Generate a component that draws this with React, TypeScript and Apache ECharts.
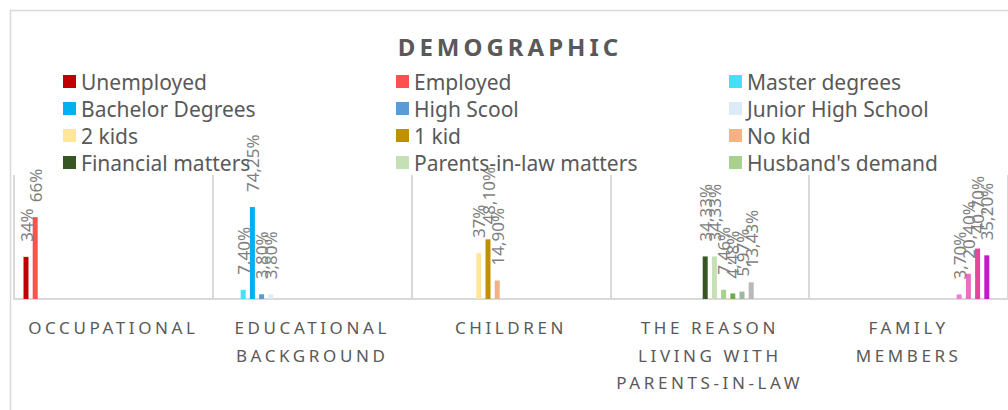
import React, { useEffect, useRef } from "react";
import * as echarts from "echarts";

const TITLE = "DEMOGRAPHIC";
const CATEGORIES = [
  "OCCUPATIONAL",
  "EDUCATIONAL\nBACKGROUND",
  "CHILDREN",
  "THE REASON\nLIVING WITH\nPARENTS-IN-LAW",
  "FAMILY\nMEMBERS",
];
const SERIES_NAMES = [
  "Unemployed",
  "Employed",
  "Master degrees",
  "Bachelor Degrees",
  "High Scool",
  "Junior High School",
  "2 kids",
  "1 kid",
  "No kid",
  "Financial matters",
  "Parents-in-law matters",
  "Husband's demand",
  "Reason 4",
  "Reason 5",
  "Reason 6",
  "Family 1",
  "Family 2",
  "Family 3",
  "Family 4",
  "Blank",
];
const SERIES_CATEGORY = [0, 0, 1, 1, 1, 1, 2, 2, 2, 3, 3, 3, 3, 3, 3, 4, 4, 4, 4, -1];
const SERIES_VALUES = [
  34, 66, 7.4, 74.25, 3.8, 3.8, 37, 48.1, 14.9, 34.33, 34.33, 7.46, 4.48, 5.97, 13.43, 3.7, 20.4,
  40.7, 35.2, null,
];
const LABEL_DECIMALS = [0, 0, 2, 2, 2, 2, 0, 2, 2, 2, 2, 2, 2, 2, 2, 2, 2, 2, 2, 2];
const SERIES_COLORS = [
  "#C00000",
  "#FF5050",
  "#47DFF7",
  "#00B0F0",
  "#5B9BD5",
  "#DDEBF7",
  "#FFE699",
  "#BF9000",
  "#F4B183",
  "#375623",
  "#C5E0B4",
  "#A9D18E",
  "#70AD47",
  "#9CB99C",
  "#B8B8B8",
  "#F07ED6",
  "#EE6CC2",
  "#E8459A",
  "#C21BC9",
  "#999999",
];
const LEGEND_COLUMNS = [
  ["Unemployed", "Bachelor Degrees", "2 kids", "Financial matters"],
  ["Employed", "High Scool", "1 kid", "Parents-in-law matters"],
  ["Master degrees", "Junior High School", "No kid", "Husband's demand"],
];
const LEGEND_X = [63, 396, 729];

const FONT = "Noto Sans";

export default function App() {
  const ref = useRef<HTMLDivElement>(null);

  useEffect(() => {
    document.body.style.margin = "0";
    if (!ref.current) return;
    const chart = echarts.init(ref.current, null, { renderer: "svg" });

    const axisLines: string[] = [];
    CATEGORIES.forEach((c) => c.split("\n").forEach((l) => axisLines.push(l)));

    const applySpacing = () => {
      const root = ref.current;
      if (!root) return;
      root.querySelectorAll("text").forEach((t) => {
        const s = t.textContent || "";
        if (s === TITLE) t.setAttribute("letter-spacing", "4");
        else if (axisLines.includes(s)) t.setAttribute("letter-spacing", "3.6");
      });
    };

    const series = SERIES_NAMES.map((name, i) => ({
      name,
      type: "bar",
      barWidth: 5,
      barGap: "84%",
      itemStyle: { color: SERIES_COLORS[i] },
      data: CATEGORIES.map((_, c) => (c === SERIES_CATEGORY[i] ? SERIES_VALUES[i] : null)),
      label: {
        show: true,
        position: "top",
        rotate: 90,
        align: "left",
        verticalAlign: "middle",
        distance: 15,
        color: "#7F7F7F",
        fontFamily: FONT,
        fontSize: 17,
        formatter: (p: any) =>
          p.value == null ? "" : Number(p.value).toFixed(LABEL_DECIMALS[i]).replace(".", ",") + "%",
      },
    }));

    const legends = LEGEND_COLUMNS.map((col, k) => ({
      orient: "vertical",
      left: LEGEND_X[k],
      top: 71,
      padding: 0,
      data: col,
      icon: "rect",
      itemWidth: 13,
      itemHeight: 13,
      itemGap: 6,
      textStyle: { color: "#595959", fontFamily: FONT, fontSize: 21 },
      selectedMode: false,
    }));

    chart.on("finished", applySpacing);
    chart.setOption({
      animation: false,
      backgroundColor: "#ffffff",
      graphic: [
        {
          type: "rect",
          shape: { x: 10.5, y: 10.5, width: 1040, height: 430 },
          style: { fill: "none", stroke: "#D9D9D9", lineWidth: 1.5 },
          silent: true,
        },
        {
          type: "text",
          x: 510,
          y: 46,
          style: {
            text: TITLE,
            fill: "#595959",
            font: `bold 24px "${FONT}"`,
            textAlign: "center",
            textVerticalAlign: "middle",
          },
        },
      ],
      legend: legends,
      grid: { left: 14, top: 175, width: 1002, height: 124, containLabel: false },
      xAxis: {
        type: "category",
        data: CATEGORIES,
        boundaryGap: true,
        axisLine: { lineStyle: { color: "#D9D9D9", width: 2 } },
        axisTick: { show: false },
        splitLine: { show: true, lineStyle: { color: "#D9D9D9", width: 2 } },
        axisLabel: {
          interval: 0,
          color: "#595959",
          fontFamily: FONT,
          fontSize: 17,
          lineHeight: 27.5,
          margin: 15,
        },
      },
      yAxis: {
        type: "value",
        min: 0,
        max: 100,
        show: false,
        splitLine: { show: false },
      },
      series,
    });
    applySpacing();

    return () => {
      chart.dispose();
    };
  }, []);

  return <div ref={ref} style={{ width: 1008, height: 410 }} />;
}
